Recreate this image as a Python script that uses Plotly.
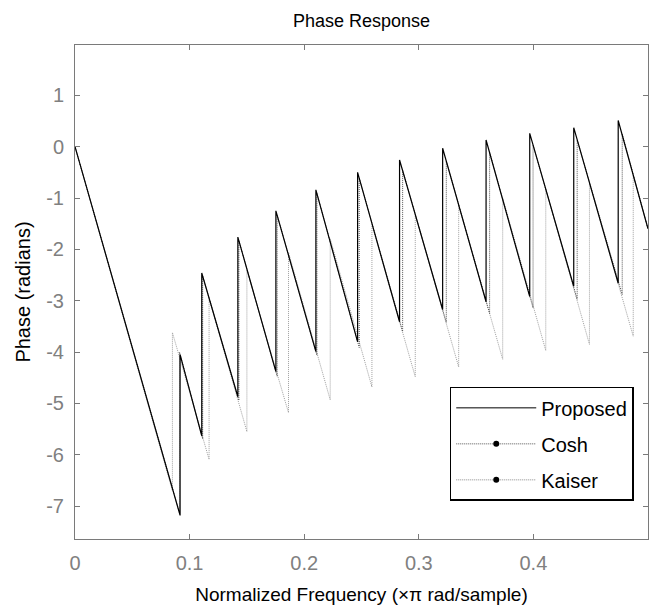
import plotly.graph_objects as go

# Normalized frequency (x pi rad/sample) and unwrapped phase (radians)
freq_proposed = [0, 0.0917, 0.0917, 0.1106, 0.1106, 0.1421, 0.1421, 0.1753, 0.1753, 0.2102, 0.2102,
                 0.2466, 0.2466, 0.2832, 0.2832, 0.3208, 0.3208, 0.3587, 0.3587, 0.3968, 0.3968,
                 0.4352, 0.4352, 0.4740, 0.4740, 0.5]
phase_proposed = [0, -7.18, -4.05, -5.63, -2.46, -4.87, -1.76, -4.38, -1.25, -3.99, -0.84,
                  -3.80, -0.50, -3.41, -0.26, -3.17, -0.03, -3.02, 0.13, -2.92, 0.26,
                  -2.72, 0.37, -2.66, 0.51, -1.60]

freq_cosh = [0, 0.0912, 0.0912, 0.1114, 0.1114, 0.1430, 0.1430, 0.1764, 0.1764, 0.2111, 0.2111,
             0.2480, 0.2480, 0.2859, 0.2859, 0.3240, 0.3240, 0.3618, 0.3618, 0.3997, 0.3997,
             0.4382, 0.4382, 0.4775, 0.4775, 0.5]
phase_cosh = [0, -7.13, -4.00, -5.69, -2.52, -4.94, -1.83, -4.47, -1.33, -4.06, -0.91,
              -3.91, -0.61, -3.60, -0.46, -3.42, -0.28, -3.25, -0.11, -3.14, 0.03,
              -2.97, 0.13, -2.88, 0.25, -1.60]

freq_kaiser = [0, 0.0850, 0.0850, 0.1170, 0.1170, 0.1500, 0.1500, 0.1863, 0.1863, 0.2227, 0.2227,
               0.2591, 0.2591, 0.2969, 0.2969, 0.3348, 0.3348, 0.3732, 0.3732, 0.4108, 0.4108,
               0.4489, 0.4489, 0.4871, 0.4871, 0.5]
phase_kaiser = [0, -6.70, -3.62, -6.09, -2.95, -5.55, -2.41, -5.18, -2.06, -4.93, -1.79,
                -4.68, -1.52, -4.48, -1.33, -4.29, -1.14, -4.14, -1.00, -3.97, -0.83,
                -3.85, -0.71, -3.69, -0.55, -1.60]

series_names = ["Proposed", "Cosh", "Kaiser"]
x_ticks = [0, 0.1, 0.2, 0.3, 0.4]
x_ticklabels = ["0", "0.1", "0.2", "0.3", "0.4"]
y_ticks = [-7, -6, -5, -4, -3, -2, -1, 0, 1]
y_ticklabels = ["-7", "-6", "-5", "-4", "-3", "-2", "-1", "0", "1"]

FONT = "Liberation Sans, Arial, sans-serif"
AXIS_GRAY = "#7a7a7a"

fig = go.Figure()

# data traces (drawn Kaiser first so the Proposed line sits on top)
fig.add_trace(go.Scatter(x=freq_kaiser, y=phase_kaiser, mode="lines", showlegend=False,
                         line=dict(color="#a0a0a0", width=1, dash="1px,1px")))
fig.add_trace(go.Scatter(x=freq_cosh, y=phase_cosh, mode="lines", showlegend=False,
                         line=dict(color="#555555", width=1, dash="1px,1px")))
fig.add_trace(go.Scatter(x=freq_proposed, y=phase_proposed, mode="lines", showlegend=False,
                         line=dict(color="#000000", width=1.2)))

# legend entries
fig.add_trace(go.Scatter(x=[None], y=[None], mode="lines", name=series_names[0],
                         legendgroup="a", line=dict(color="#000000", width=1)))
fig.add_trace(go.Scatter(x=[None], y=[None], mode="lines+markers", name=series_names[1],
                         legendgroup="b", line=dict(color="#555555", width=1, dash="1px,1px"),
                         marker=dict(color="#000000", size=6)))
fig.add_trace(go.Scatter(x=[None], y=[None], mode="lines+markers", name=series_names[2],
                         legendgroup="c", line=dict(color="#888888", width=1, dash="1px,1px"),
                         marker=dict(color="#000000", size=6)))

axis_common = dict(showline=True, linecolor=AXIS_GRAY, linewidth=1, mirror="ticks",
                   ticks="inside", ticklen=5, tickcolor=AXIS_GRAY, showgrid=False,
                   zeroline=False, tickfont=dict(family=FONT, size=20, color="#808080"))

fig.update_xaxes(range=[0, 0.5], tickvals=x_ticks, ticktext=x_ticklabels,
                 title=dict(text="Normalized Frequency (×π rad/sample)",
                            font=dict(family=FONT, size=19, color="#000000"), standoff=14),
                 ticklabelstandoff=6, **axis_common)
fig.update_yaxes(range=[-7.64, 1.98], tickvals=y_ticks, ticktext=y_ticklabels,
                 title=dict(text="Phase (radians)",
                            font=dict(family=FONT, size=20, color="#000000"), standoff=10),
                 ticklabelstandoff=6, **axis_common)

# the page body adds an 8px offset, so the figure is slightly smaller than the window
fig.update_layout(
    width=655, height=606,
    margin=dict(l=67, r=15, t=37, b=75, autoexpand=False),
    paper_bgcolor="white", plot_bgcolor="white",
    title=dict(text="Phase Response", x=0.5, xref="paper", xanchor="center",
               y=1 - 13 / 606, yref="container", yanchor="middle",
               font=dict(family=FONT, size=18, color="#000000")),
    legend=dict(x=0.654, y=0.308, xanchor="left", yanchor="top",
                bgcolor="white", bordercolor="#000000", borderwidth=1.5,
                font=dict(family=FONT, size=20, color="#000000"),
                traceorder="grouped", tracegroupgap=7, itemwidth=80),
    showlegend=True,
)

fig.write_html("out.html")
